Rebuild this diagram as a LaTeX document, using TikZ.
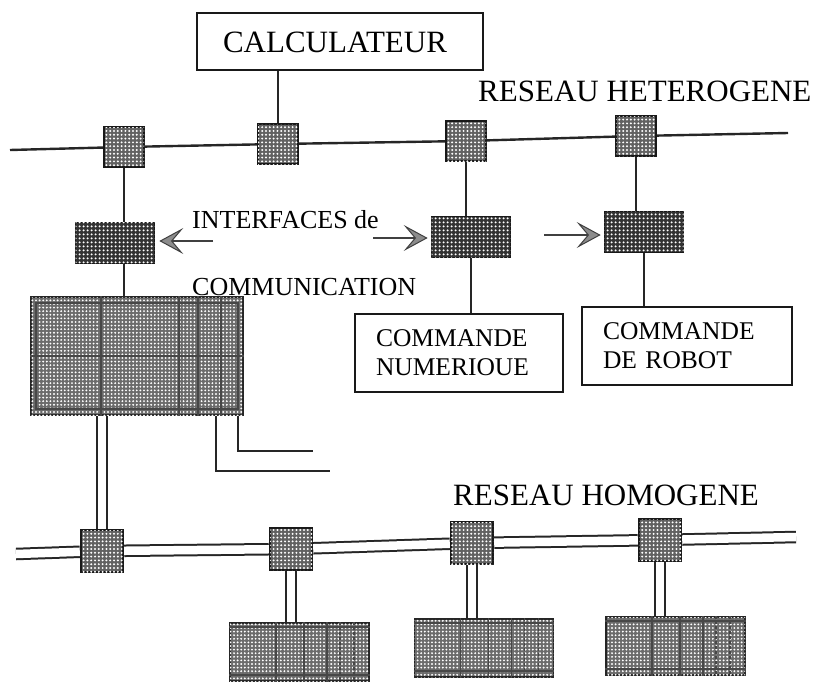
\documentclass[tikz,border=0pt]{standalone}
\usepackage{fontspec}
\setmainfont{Liberation Serif}
\usetikzlibrary{arrows.meta,patterns.meta}
\begin{document}
\begin{tikzpicture}[x=1pt,y=-1pt,
  wire/.style={line width=2.4pt, draw=black!85},
  dbl/.style={double, double distance=8.5pt, line width=2pt, draw=black!85},
  netlabel/.style={inner sep=0, anchor=base west, font=\fontsize{31}{35}\selectfont},
  textbox/.style={draw=black!90, line width=2pt, inner sep=0},
  relay/.style={draw=black!90, line width=2.4pt, minimum size=40pt, inner sep=0,
    fill=black!62, postaction={pattern={Dots[distance=3.8pt,radius=1.1pt]}, pattern color=white}},
  iface/.style={draw=black!90, line width=1.6pt, minimum width=79pt, minimum height=41pt, inner sep=0,
    fill=black!80, postaction={pattern={Dots[distance=4pt,radius=1.3pt]}, pattern color=white}},
  devbox/.style={draw=black!85, line width=1.8pt, inner sep=0,
    fill=black!58, postaction={pattern={Dots[distance=3.6pt,radius=1.05pt]}, pattern color=white}},
  celline/.style={line width=1.4pt, draw=black!72},
  pointer/.style={line width=2.4pt, draw=black!75,
    -{Stealth[length=24pt,width=26pt,inset=11pt,line width=1pt,fill=black!45]}},
]
\useasboundingbox (0,0) rectangle (818,682);

% computer on the heterogeneous network
\node[textbox, minimum width=286pt, minimum height=57pt] (calc) at (340,41.5) {};
\node[font=\fontsize{31}{35}\selectfont, inner sep=0] (calct) at (335,42) {CALCULATEUR};

\node[relay] (s1) at (124,147) {};
\node[relay] (s2) at (278,144) {};
\node[relay] (s3) at (466,141) {};
\node[relay] (s4) at (636,136) {};
\coordinate (hl) at (10,150);
\coordinate (hr) at (788,133);
\draw[wire] (hl) -- (s1) -- (s2) -- (s3) -- (s4) -- (hr);
\draw[wire] (s2.north |- calc.south) -- (s2.north);

\node[netlabel] (het) at (478,102) {RESEAU HETEROGENE};

% communication interfaces
\node[iface] (i1) at (115,243) {};
\node[iface] (i2) at (471,237) {};
\node[iface] (i3) at (644,232) {};
\draw[wire] (s1.south) -- (s1.south |- i1.north);
\draw[wire] (s3.south) -- (s3.south |- i2.north);
\draw[wire] (s4.south) -- (s4.south |- i3.north);

\node[netlabel, font=\fontsize{26}{30}\selectfont] (ifa) at (192,228) {INTERFACES de};
\node[netlabel, font=\fontsize{26}{30}\selectfont] (ifb) at (192,295) {COMMUNICATION};

\coordinate (p1) at (213,241);
\coordinate (p2) at (373,238);
\coordinate (p3) at (544,235);
\draw[pointer, shorten >=4pt] (p1) -- (i1.east |- p1);
\draw[pointer, shorten >=3pt] (p2) -- (i2.west |- p2);
\draw[pointer, shorten >=3pt] (p3) -- (i3.west |- p3);

% controllers
\node[textbox, text width=166pt, inner xsep=21pt, minimum height=78pt, align=left,
  font=\fontsize{25.5}{29}\selectfont] (cn) at (459,353) {COMMANDE\\NUMERIOUE};
\node[textbox, text width=168pt, inner xsep=21pt, minimum height=78pt, align=left,
  font=\fontsize{25.5}{29}\selectfont] (cr) at (687,346) {COMMANDE\\DE ROBOT};
\draw[wire] (i2.south) -- (i2.south |- cn.north);
\draw[wire] (i3.south) -- (i3.south |- cr.north);

% gateway block
\node[devbox, minimum width=212pt, minimum height=118pt] (blk) at (137,356) {};
\draw[wire] (s1.south |- i1.south) -- (s1.south |- blk.north);
\draw[celline] (36,303) rectangle (238,409);
\foreach \u in {71,149,168,191}
  \draw[celline] ([xshift=\u pt]blk.north west) -- ([xshift=\u pt]blk.south west);
\draw[celline] (blk.west) -- (blk.east);

\coordinate (o1) at (313,451);
\coordinate (o2) at (330,471);
\draw[wire] ([xshift=-6pt]blk.south east) |- (o1);
\draw[wire] ([xshift=-28pt]blk.south east) |- (o2);

% homogeneous network
\node[netlabel] (hom) at (453,505) {RESEAU HOMOGENE};
\node[relay, minimum size=42pt] (b1) at (102,551) {};
\node[relay, minimum size=42pt] (b2) at (291,549) {};
\node[relay, minimum size=42pt] (b3) at (472,543) {};
\node[relay, minimum size=42pt] (b4) at (660,540) {};
\coordinate (gl) at (16,554);
\coordinate (gr) at (796,537);
\draw[dbl] (gl) -- (b1) -- (b2) -- (b3) -- (b4) -- (gr);
\draw[dbl] (b1.north |- blk.south) -- (b1.north);

% devices
\node[devbox, minimum width=139pt, minimum height=58pt] (d1) at (299.5,652) {};
\node[devbox, minimum width=139pt, minimum height=58pt] (d2) at (484,648) {};
\node[devbox, minimum width=139pt, minimum height=58pt] (d3) at (675.5,646) {};
\draw[dbl] (b2.south) -- (b2.south |- d1.north);
\draw[dbl] (b3.south) -- (b3.south |- d2.north);
\draw[dbl] (b4.south) -- (b4.south |- d3.north);
\foreach \d in {d1,d2,d3} {
  \foreach \u in {47,75,98}
    \draw[celline] ([xshift=\u pt]\d.north west) -- ([xshift=\u pt]\d.south west);
  \foreach \u in {111,125}
    \draw[celline, dash pattern=on 3pt off 2pt] ([xshift=\u pt]\d.north west) -- ([xshift=\u pt]\d.south west);
  \draw[celline] ([yshift=-5pt]\d.north west) -- ([yshift=-5pt]\d.north east);
  \draw[celline] ([yshift=7pt]\d.south west) -- ([yshift=7pt]\d.south east);
}
\end{tikzpicture}
\end{document}
